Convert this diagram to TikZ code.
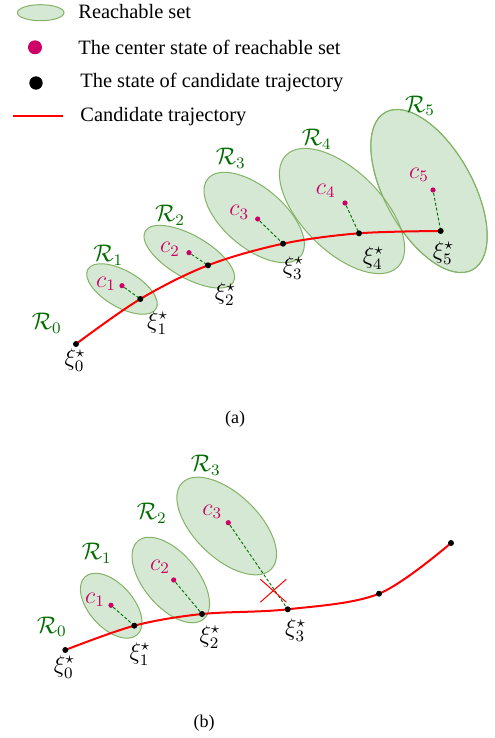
\documentclass[tikz,border=0pt]{standalone}
\usepackage[no-math]{fontspec}
\setmainfont{Liberation Serif}
\usepackage{tikz}
\usetikzlibrary{shapes.geometric,shapes.misc}
\definecolor{rfill}{RGB}{213,232,212}
\definecolor{rline}{RGB}{130,179,102}
\definecolor{rlbl}{RGB}{0,110,0}
\definecolor{cmag}{RGB}{204,0,102}

\begin{document}
\begin{tikzpicture}[
  x=0.5pt,y=-0.5pt,
  rset/.style={ellipse,draw=rline,fill=rfill,line width=0.5pt,inner sep=0pt},
  rrim/.style={ellipse,draw=rline,line width=0.5pt,inner sep=0pt},
  sdot/.style={circle,fill=black,inner sep=0pt,minimum size=3pt},
  cdot/.style={circle,fill=cmag,inner sep=0pt,minimum size=2.6pt},
  traj/.style={red,line width=1pt},
  link/.style={rlbl,line width=0.45pt,dash pattern=on 1.5pt off 1pt},
  txt/.style={font=\fontsize{9}{11}\selectfont,inner sep=0pt},
  lgtxt/.style={font=\fontsize{10.2}{12}\selectfont,inner sep=0pt,anchor=base west},
  mlbl/.style={font=\fontsize{11.5}{13}\selectfont,inner sep=0pt},
  rlab/.style={mlbl,text=rlbl},
  clab/.style={mlbl,text=cmag}
]
\useasboundingbox (0,0) rectangle (494,738);

% legend
\node[rset,minimum width=23.3pt,minimum height=8pt] (lgset) at (40.7,12.7) {};
\node[lgtxt] (lgsett) at (78,18.3) {Reachable set};
\node[cdot,minimum size=7pt] (lgc) at (35,47.3) {};
\node[lgtxt] (lgct) at (78,54.3) {The center state of reachable set};
\node[sdot,minimum size=6.7pt] (lgs) at (36,83) {};
\node[lgtxt] (lgst) at (80,87.3) {The state of candidate trajectory};
\coordinate (lgl1) at (13,115.7);
\coordinate (lgl2) at (63,115.7);
\draw[traj] (lgl1)--(lgl2);
\node[lgtxt] (lgtt) at (80,121.7) {Candidate trajectory};

% (a) reachable sets along the trajectory
\node[rset,minimum width=39.4pt,minimum height=18.2pt,rotate=-30] (ra1) at (122,289) {};
\node[rset,minimum width=50.9pt,minimum height=21.1pt,rotate=-30] (ra2) at (189.3,256.7) {};
\node[rset,minimum width=60.4pt,minimum height=30.2pt,rotate=-40] (ra3) at (254.2,217.5) {};
\node[rset,minimum width=90pt,minimum height=44pt,rotate=-61] (ra5) at (429,191) {};
\node[rset,minimum width=79pt,minimum height=40pt,rotate=-45] (ra4) at (342,211) {};
\node[rrim,minimum width=90pt,minimum height=44pt,rotate=-61] (ra5rim) at (429,191) {};

\coordinate (xa0) at (76,344);
\coordinate (xa1) at (140.3,299);
\coordinate (xa2) at (208,265.3);
\coordinate (xa3) at (283,243.7);
\coordinate (xa4) at (359,233.3);
\coordinate (xa5) at (440.7,231);
\draw[traj] plot[smooth,tension=0.55] coordinates {(xa0) (xa1) (xa2) (xa3) (xa4) (xa5)};

\node[cdot] (ca1) at (122,285.7) {};
\node[cdot] (ca2) at (189,252.7) {};
\node[cdot] (ca3) at (257.7,219) {};
\node[cdot] (ca4) at (345,203) {};
\node[cdot] (ca5) at (433,190) {};
\draw[link] (ca1)--(xa1);
\draw[link] (ca2)--(xa2);
\draw[link] (ca3)--(xa3);
\draw[link] (ca4)--(xa4);
\draw[link] (ca5)--(xa5);
\foreach \i in {0,...,5} \node[sdot] (sa\i) at (xa\i) {};

\node[rlab] (la0) at (46.7,323.3) {$\mathcal{R}_0$};
\node[rlab] (la1) at (108.3,255) {$\mathcal{R}_1$};
\node[rlab] (la2) at (170,215) {$\mathcal{R}_2$};
\node[rlab] (la3) at (230.7,158.3) {$\mathcal{R}_3$};
\node[rlab] (la4) at (316.7,139.3) {$\mathcal{R}_4$};
\node[rlab] (la5) at (420,106) {$\mathcal{R}_5$};
\node[clab] (lca1) at (106,284) {$c_1$};
\node[clab] (lca2) at (170,249.3) {$c_2$};
\node[clab] (lca3) at (239.3,212.3) {$c_3$};
\node[clab] (lca4) at (325.7,190.7) {$c_4$};
\node[clab] (lca5) at (419,175) {$c_5$};
\node[mlbl] (lxa0) at (75,360.5) {$\xi_0^\star$};
\node[mlbl] (lxa1) at (157.7,322.8) {$\xi_1^\star$};
\node[mlbl] (lxa2) at (225.3,294.5) {$\xi_2^\star$};
\node[mlbl] (lxa3) at (293.3,267.8) {$\xi_3^\star$};
\node[mlbl] (lxa4) at (373.3,257.8) {$\xi_4^\star$};
\node[mlbl] (lxa5) at (443.3,252.8) {$\xi_5^\star$};
\node[txt] (capa) at (235,419) {(a)};

% (b) the third set misses the trajectory
\node[rset,minimum width=39pt,minimum height=22pt,rotate=-48] (rb1) at (111.2,605.7) {};
\node[rset,minimum width=51pt,minimum height=27pt,rotate=-50] (rb2) at (170.8,580) {};
\node[rset,minimum width=62pt,minimum height=32pt,rotate=-44] (rb3) at (226.7,526) {};

\coordinate (xb0) at (65.3,650);
\coordinate (xb1) at (134.3,625.7);
\coordinate (xb2) at (202,614);
\coordinate (xb3) at (287.7,609.3);
\coordinate (xb4) at (379,593.7);
\coordinate (xb5) at (451,543);
\draw[traj] plot[smooth,tension=0.55] coordinates {(xb0) (xb1) (xb2) (xb3) (xb4) (xb5)};

\node[cdot] (cb1) at (111,605.3) {};
\node[cdot] (cb2) at (173.7,580) {};
\node[cdot] (cb3) at (228.3,522.7) {};
\draw[link] (cb1)--(xb1);
\draw[link] (cb2)--(xb2);
\draw[link] (cb3)--(xb3);
\node[cross out,draw=red,line width=0.5pt,inner sep=0pt,
      minimum width=12.5pt,minimum height=11pt] (cut) at (273.3,590.7) {};
\foreach \i in {0,...,5} \node[sdot] (sb\i) at (xb\i) {};

\node[rlab] (lb0) at (51.7,626.7) {$\mathcal{R}_0$};
\node[rlab] (lb1) at (96.7,553.3) {$\mathcal{R}_1$};
\node[rlab] (lb2) at (151.7,513.3) {$\mathcal{R}_2$};
\node[rlab] (lb3) at (205.7,465) {$\mathcal{R}_3$};
\node[clab] (lcb1) at (95,600) {$c_1$};
\node[clab] (lcb2) at (160,566.7) {$c_2$};
\node[clab] (lcb3) at (212.3,511.7) {$c_3$};
\node[mlbl] (lxb0) at (64.3,667) {$\xi_0^\star$};
\node[mlbl] (lxb1) at (140,653.8) {$\xi_1^\star$};
\node[mlbl] (lxb2) at (210,636.8) {$\xi_2^\star$};
\node[mlbl] (lxb3) at (295.7,630.5) {$\xi_3^\star$};
\node[txt] (capb) at (204,723.3) {(b)};
\end{tikzpicture}
\end{document}
